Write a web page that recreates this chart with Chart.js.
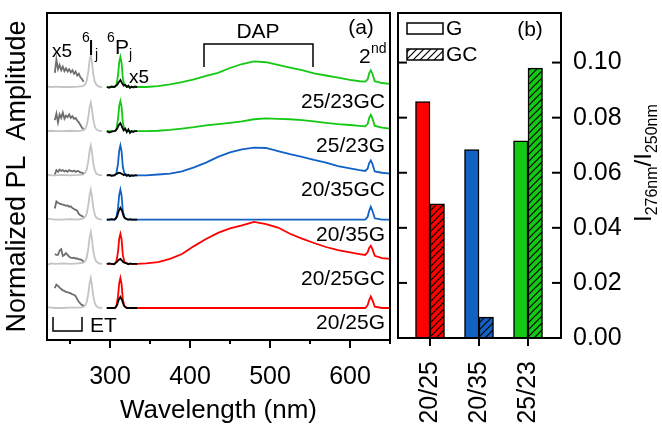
<!DOCTYPE html>
<html>
<head>
<meta charset="utf-8">
<script src="https://cdn.jsdelivr.net/npm/chart.js@4.4.1/dist/chart.umd.min.js"></script>
<style>
    html, body { margin: 0; padding: 0; background: #fff; }
    #wrap { position: relative; width: 662px; height: 428px; }
    #pl { position: absolute; left: 0; top: 0; }
    #ratio { position: absolute; left: 396px; top: 0; }
</style>
</head>
<body>
<div id="wrap">
    <canvas id="pl" width="396" height="428"></canvas>
    <canvas id="ratio" width="266" height="428"></canvas>
</div>
<script>
// ---------- panel (a): normalized PL spectra, top trace first ----------
const sampleNames = ["25/23GC", "25/23G", "20/35GC", "20/35G", "20/25GC", "20/25G"];

// excitation-transfer region, light grey (6I_j line at 276 nm)
const etWl = [221, 226, 232, 240, 250, 260, 266, 269, 271, 273, 274.5, 276, 277.5, 279, 281, 283, 286, 290];
const et2523GC = [0.01, 0, 0.01, 0, 0, 0.01, 0.02, 0.06, 0.15, 0.36, 0.6, 0.72, 0.56, 0.3, 0.12, 0.05, 0.01, 0];
const et2523G = [0, 0.01, 0, 0, 0.01, 0, 0.02, 0.05, 0.14, 0.33, 0.54, 0.65, 0.5, 0.27, 0.1, 0.04, 0.01, 0];
const et2035GC = [0.02, 0, 0, 0.01, 0, 0.01, 0.02, 0.06, 0.14, 0.34, 0.56, 0.68, 0.52, 0.28, 0.11, 0.04, 0.01, 0];
const et2035G = [0.03, 0.01, 0, 0, 0.01, 0, 0.02, 0.06, 0.14, 0.34, 0.56, 0.68, 0.52, 0.28, 0.11, 0.04, 0.01, 0];
const et2025GC = [-0.03, 0.01, 0, 0.01, 0, 0.01, 0.02, 0.06, 0.15, 0.36, 0.6, 0.72, 0.56, 0.3, 0.12, 0.05, 0.01, 0];
const et2025G = [0.02, 0.01, 0, 0, 0.01, 0.01, 0.02, 0.06, 0.14, 0.34, 0.56, 0.68, 0.52, 0.28, 0.11, 0.04, 0.01, 0];

// x5 magnified ET band, dark grey
const etX5Wl = [231, 233, 235, 237, 239, 241, 243, 245, 247, 249, 251, 253, 255, 257, 259, 261, 263, 265, 267];
const etX52523GC = [0.32, 0.62, 0.4, 0.5, 0.38, 0.46, 0.36, 0.42, 0.35, 0.4, 0.33, 0.38, 0.3, 0.35, 0.26, 0.3, 0.22, 0.18, 0.12];
const etX52523G = [0.25, 0.4, 0.2, 0.38, 0.3, 0.42, 0.28, 0.35, 0.32, 0.38, 0.3, 0.34, 0.28, 0.3, 0.24, 0.2, 0.14, 0.08, 0.05];
const etX52035GC = [0.02, 0.12, 0.08, 0.13, 0.1, 0.12, 0.09, 0.11, 0.08, 0.12, 0.1, 0.09, 0.11, 0.08, 0.1, 0.09, 0.07, 0.06, 0.04];
const etX52035G = [0.25, 0.41, 0.38, 0.36, 0.35, 0.34, 0.33, 0.31, 0.32, 0.29, 0.3, 0.26, 0.24, 0.22, 0.2, 0.13, 0.1, 0.08, 0.06];
const etX52025GC = [0.22, 0.2, 0.2, 0.3, 0.33, 0.18, 0.2, 0.24, 0.2, 0.16, 0.14, 0.13, 0.14, 0.12, 0.12, 0.1, 0.1, 0.08, 0.05];
const etX52025G = [0.45, 0.53, 0.5, 0.46, 0.43, 0.4, 0.39, 0.36, 0.36, 0.34, 0.33, 0.31, 0.3, 0.27, 0.2, 0.14, 0.1, 0.07, 0.05];

// 6P_j line at 313 nm, sample colour
const pWl = [296, 302, 306, 308, 310, 311.5, 313, 314.5, 316, 318, 322, 328];
const p2523GC = [0, 0, 0, 0.05, 0.26, 0.56, 0.68, 0.54, 0.2, 0.04, 0, 0];
const p2523G = [0, 0, 0, 0.05, 0.27, 0.57, 0.68, 0.55, 0.2, 0.04, 0, 0];
const p2035GC = [0, 0, 0, 0.05, 0.26, 0.56, 0.68, 0.54, 0.2, 0.04, 0, 0];
const p2035G = [0, 0, 0, 0.05, 0.26, 0.56, 0.68, 0.54, 0.2, 0.04, 0, 0];
const p2025GC = [0, 0, 0, 0.05, 0.27, 0.57, 0.68, 0.55, 0.2, 0.04, 0, 0];
const p2025G = [0, 0, 0, 0.05, 0.26, 0.56, 0.68, 0.54, 0.2, 0.04, 0, 0];

// x5 magnified 6P_j line, black
const pX5Wl = [296, 299, 302, 305, 307, 309, 311, 313, 315, 317, 319, 321, 323, 325, 327, 329, 331, 334];
const pX52523GC = [0, -0.02, 0.01, 0, 0.02, 0.05, 0.11, 0.16, 0.09, 0.03, 0.05, 0, 0.03, -0.02, 0.01, -0.01, 0.01, 0];
const pX52523G = [0, -0.03, -0.01, 0, 0.01, 0.06, 0.14, 0.18, 0.1, 0.02, 0.06, -0.02, 0.04, -0.04, 0, -0.02, 0, 0];
const pX52035GC = [0, 0.01, -0.01, 0, 0.02, 0.04, 0.06, 0.05, 0.03, 0.01, 0.02, -0.01, 0.01, -0.02, 0, -0.01, 0, 0];
const pX52035G = [0, 0, 0.01, 0, 0.02, 0.08, 0.2, 0.27, 0.2, 0.08, 0.03, 0.01, 0, 0.01, 0, 0, 0, 0];
const pX52025GC = [0, 0.01, 0, -0.01, 0.02, 0.05, 0.09, 0.11, 0.07, 0.03, 0.02, 0.01, -0.01, 0.01, 0, 0, 0, 0];
const pX52025G = [0, 0, 0, 0, 0.01, 0.07, 0.19, 0.25, 0.18, 0.07, 0.02, 0, 0, 0, 0, 0, 0, 0];

// DAP band and 2nd order line, sample colour
const dapWl = [334, 345, 360, 375, 390, 405, 420, 435, 450, 465, 480, 495, 510, 525, 540, 555, 570, 585, 600, 612, 619, 622, 624, 626, 628, 631, 640, 650];
const dap2523GC = [0, 0, 0.02, 0.06, 0.11, 0.17, 0.25, 0.32, 0.43, 0.52, 0.58, 0.56, 0.5, 0.44, 0.38, 0.31, 0.26, 0.21, 0.16, 0.13, 0.12, 0.17, 0.31, 0.38, 0.3, 0.13, 0.09, 0.07];
const dap2523G = [0, 0, 0.01, 0.03, 0.06, 0.09, 0.13, 0.16, 0.19, 0.22, 0.27, 0.29, 0.28, 0.27, 0.25, 0.22, 0.19, 0.16, 0.14, 0.12, 0.11, 0.16, 0.3, 0.37, 0.29, 0.12, 0.08, 0.06];
const dap2035GC = [0, 0, 0.02, 0.04, 0.09, 0.18, 0.29, 0.42, 0.52, 0.59, 0.63, 0.62, 0.55, 0.48, 0.42, 0.35, 0.29, 0.21, 0.16, 0.12, 0.1, 0.15, 0.28, 0.34, 0.26, 0.09, 0.06, 0.04];
const dap2035G = [0, 0, 0, 0, 0, 0, 0, 0, 0, 0, 0, 0, 0, 0, 0, 0, 0, 0, 0, 0, 0, 0.06, 0.2, 0.29, 0.2, 0.03, 0, 0];
const dap2025GC = [0, 0.01, 0.04, 0.11, 0.22, 0.4, 0.56, 0.7, 0.8, 0.87, 0.95, 0.9, 0.82, 0.68, 0.57, 0.47, 0.38, 0.31, 0.26, 0.22, 0.2, 0.26, 0.36, 0.41, 0.33, 0.18, 0.13, 0.11];
const dap2025G = [0, 0, 0, 0, 0, 0, 0, 0, 0, 0, 0, 0, 0, 0, 0, 0, 0, 0, 0, 0, 0, 0.06, 0.18, 0.26, 0.18, 0.03, 0, 0];

// ---------- panel (b): I(276nm)/I(250nm) ----------
const ratioGroups = ["20/25", "20/35", "25/23"];
const ratioG = [0.0858, 0.0684, 0.0716];
const ratioGC = [0.0487, 0.0076, 0.098];

// styling
const FONT = '"Liberation Sans", Arial, sans-serif';
const RED = "#ff0000", BLUE = "#1262c6", GREEN = "#14c814";
const traceColors = [GREEN, GREEN, BLUE, BLUE, RED, RED];
const barColors = [RED, BLUE, GREEN];

Chart.defaults.font.family = FONT;
Chart.defaults.color = "#000";

const traces = [
    [et2523GC, etX52523GC, p2523GC, pX52523GC, dap2523GC],
    [et2523G, etX52523G, p2523G, pX52523G, dap2523G],
    [et2035GC, etX52035GC, p2035GC, pX52035GC, dap2035GC],
    [et2035G, etX52035G, p2035G, pX52035G, dap2035G],
    [et2025GC, etX52025GC, p2025GC, pX52025GC, dap2025GC],
    [et2025G, etX52025G, p2025G, pX52025G, dap2025G],
];

function shifted(wl, vals, off) {
    return wl.map((w, i) => ({ x: w, y: vals[i] + off }));
}

function lineSet(data, color, order) {
    return { data, borderColor: color, borderWidth: 1.8, pointRadius: 0, tension: 0, order, fill: false };
}

function hatch(color) {
    const c = document.createElement("canvas");
    c.width = 7; c.height = 7;
    const g = c.getContext("2d");
    g.fillStyle = color;
    g.fillRect(0, 0, 7, 7);
    g.strokeStyle = "#000";
    g.lineWidth = 1.2;
    g.beginPath();
    g.moveTo(-1, 8); g.lineTo(8, -1);
    g.moveTo(-4, 4); g.lineTo(4, -4);
    g.moveTo(3, 11); g.lineTo(11, 3);
    g.stroke();
    return g.createPattern(c, "repeat");
}

function line(ctx, pts) {
    ctx.beginPath();
    ctx.moveTo(pts[0][0], pts[0][1]);
    for (let i = 1; i < pts.length; i++) ctx.lineTo(pts[i][0], pts[i][1]);
    ctx.stroke();
}

function text(ctx, s, x, y, size, align) {
    ctx.font = size + "px " + FONT;
    ctx.textAlign = align || "left";
    ctx.textBaseline = "alphabetic";
    ctx.fillText(s, x, y);
}

// no extra room for edge tick labels, the plot box is fixed
function noEdgePadding(s) {
    s.paddingLeft = 0;
    s.paddingRight = 0;
    s.paddingTop = 0;
    s.paddingBottom = 0;
}

const plDecor = {
    id: "plDecor",
    afterDraw(chart) {
        const { ctx, chartArea: a, scales: { x, y } } = chart;
        ctx.save();
        ctx.strokeStyle = "#000";
        ctx.fillStyle = "#000";
        ctx.lineWidth = 2;
        ctx.strokeRect(a.left, a.top, a.right - a.left, a.bottom - a.top);
        x.ticks.forEach(t => {
            const px = x.getPixelForValue(t.value);
            const len = t.value % 100 === 0 ? 8 : 4;
            line(ctx, [[px, a.bottom], [px, a.bottom + len]]);
        });
        // sample names
        sampleNames.forEach((s, i) => {
            const off = sampleNames.length - 1 - i;
            text(ctx, s, a.right - 5, y.getPixelForValue(off) + 21, 21, "right");
        });
        // peak labels
        text(ctx, "x5", 52, 57, 19);
        text(ctx, "6", 82, 42, 14);
        text(ctx, "I", 88, 55, 22);
        text(ctx, "j", 95, 59, 14);
        text(ctx, "6", 107, 42, 14);
        text(ctx, "P", 115, 54, 21);
        text(ctx, "j", 129, 59, 14);
        text(ctx, "x5", 129, 83, 19);
        // DAP bracket
        ctx.lineWidth = 1.5;
        line(ctx, [[204, 67], [204, 44], [313, 44], [313, 67]]);
        text(ctx, "DAP", 258, 38, 21, "center");
        text(ctx, "(a)", 361, 34, 21, "center");
        text(ctx, "2", 359, 63, 21);
        text(ctx, "nd", 371, 53, 14);
        // ET scale bar
        line(ctx, [[53, 317], [53, 331], [82, 331], [82, 317]]);
        text(ctx, "ET", 90, 332, 21);
        ctx.restore();
    },
};

function buildPlChart(canvas) {
    const datasets = [];
    traces.forEach((tr, i) => {
        const off = traces.length - 1 - i;
        datasets.push(lineSet(shifted(etWl, tr[0], off), "#c4c4c4", 3));
        datasets.push(lineSet(shifted(etX5Wl, tr[1], off), "#6e6e6e", 2));
        datasets.push(lineSet(shifted(pWl.concat(dapWl), tr[2].concat(tr[4]), off), traceColors[i], 1));
        datasets.push(lineSet(shifted(pX5Wl, tr[3], off), "#000", 0));
    });
    return new Chart(canvas, {
        type: "line",
        data: { datasets },
        options: {
            responsive: false,
            animation: false,
            devicePixelRatio: 1,
            layout: { padding: { top: 13, right: 6, left: 0, bottom: 0 } },
            plugins: { legend: { display: false }, tooltip: { enabled: false } },
            scales: {
                x: {
                    type: "linear",
                    min: 221.25,
                    max: 650,
                    afterFit: s => { s.height = 88; noEdgePadding(s); },
                    grid: { display: false, drawTicks: false },
                    border: { display: false },
                    ticks: {
                        stepSize: 50,
                        includeBounds: false,
                        autoSkip: false,
                        maxRotation: 0,
                        padding: 22,
                        font: { size: 25 },
                        callback: v => (v % 100 === 0 ? String(v) : ""),
                    },
                    title: { display: true, text: "Wavelength (nm)", font: { size: 26 }, padding: { top: 0, bottom: 2 } },
                },
                y: {
                    min: -0.724,
                    max: 6.674,
                    afterFit: s => { s.width = 47; noEdgePadding(s); },
                    grid: { display: false, drawTicks: false },
                    border: { display: false },
                    ticks: { display: false },
                    title: { display: true, text: "Normalized PL  Amplitude", font: { size: 27 }, padding: { top: 1, bottom: 0 } },
                },
            },
        },
        plugins: [plDecor],
    });
}

const ratioDecor = {
    id: "ratioDecor",
    afterDraw(chart) {
        const { ctx, chartArea: a, scales: { x, y } } = chart;
        ctx.save();
        ctx.strokeStyle = "#000";
        ctx.fillStyle = "#000";
        ctx.lineWidth = 2;
        ctx.strokeRect(a.left, a.top, a.right - a.left, a.bottom - a.top);
        x.ticks.forEach(t => {
            const px = x.getPixelForValue(t.value);
            line(ctx, [[px, a.bottom], [px, a.bottom + 8]]);
        });
        y.ticks.forEach(t => {
            const py = y.getPixelForValue(t.value);
            line(ctx, [[a.left, py], [a.left + 9, py]]);
            line(ctx, [[a.right - 9, py], [a.right, py]]);
        });
        // legend
        const lx = a.left + 9;
        ctx.lineWidth = 1.5;
        ctx.fillStyle = "#fff";
        ctx.fillRect(lx, 23, 36, 11);
        ctx.strokeRect(lx, 23, 36, 11);
        ctx.fillStyle = hatch("#fff");
        ctx.fillRect(lx, 49, 36, 11);
        ctx.strokeRect(lx, 49, 36, 11);
        ctx.fillStyle = "#000";
        text(ctx, "G", lx + 39, 35, 21);
        text(ctx, "GC", lx + 39, 61, 21);
        text(ctx, "(b)", 134, 36, 21, "center");
        // right axis title, rotated
        ctx.translate(255, 222);
        ctx.rotate(-Math.PI / 2);
        let cx = 0;
        const parts = [["I", 24, 0], ["276nm", 16, 6], ["/", 24, 0], ["I", 24, 0], ["250nm", 16, 6]];
        parts.forEach(([s, size, dy]) => {
            text(ctx, s, cx, dy, size);
            cx += ctx.measureText(s).width;
        });
        ctx.restore();
    },
};

function buildRatioChart(canvas) {
    const gc = barColors.map(c => hatch(c));
    return new Chart(canvas, {
        type: "bar",
        data: {
            datasets: [
                {
                    label: "G",
                    data: ratioG.map((v, i) => ({ x: i + 1, y: v })),
                    backgroundColor: barColors,
                    borderColor: "#000",
                    borderWidth: 1.5,
                    barThickness: 14.5,
                },
                {
                    label: "GC",
                    data: ratioGC.map((v, i) => ({ x: i + 1, y: v })),
                    backgroundColor: gc,
                    borderColor: "#000",
                    borderWidth: 1.5,
                    barThickness: 14.5,
                },
            ],
        },
        options: {
            responsive: false,
            animation: false,
            devicePixelRatio: 1,
            layout: { padding: { top: 13, left: 2, right: 0, bottom: 0 } },
            plugins: { legend: { display: false }, tooltip: { enabled: false } },
            scales: {
                x: {
                    type: "linear",
                    min: 0.347,
                    max: 3.673,
                    offset: false,
                    afterFit: s => { s.height = 90; noEdgePadding(s); },
                    grid: { display: false, drawTicks: false },
                    border: { display: false },
                    ticks: {
                        stepSize: 1,
                        includeBounds: false,
                        autoSkip: false,
                        minRotation: 90,
                        maxRotation: 90,
                        padding: 23,
                        font: { size: 25 },
                        callback: v => ratioGroups[Math.round(v) - 1] || "",
                    },
                },
                y: {
                    position: "right",
                    min: 0,
                    max: 0.118,
                    afterFit: s => { s.width = 101; noEdgePadding(s); },
                    grid: { display: false, drawTicks: false },
                    border: { display: false },
                    ticks: {
                        stepSize: 0.02,
                        includeBounds: false,
                        padding: 12,
                        font: { size: 25, lineHeight: 1 },
                        callback: v => v.toFixed(2),
                    },
                },
            },
        },
        plugins: [ratioDecor],
    });
}

buildPlChart(document.getElementById("pl"));
buildRatioChart(document.getElementById("ratio"));
</script>
</body>
</html>
